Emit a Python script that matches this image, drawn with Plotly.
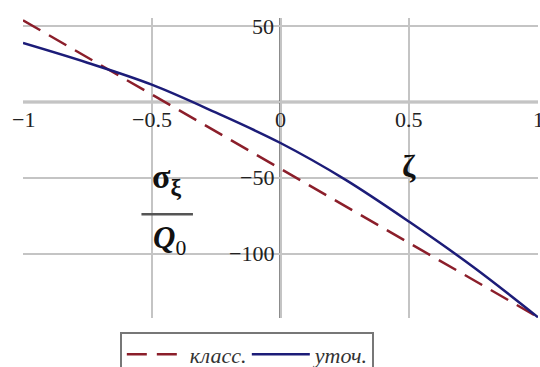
import plotly.graph_objects as go

# data
zeta = [-1.0, -0.75, -0.5, -0.25, 0.0, 0.25, 0.5, 0.75, 1.0]
sigma_refined = [39, 26, 11.5, -7, -27, -51, -79, -109, -142]
zeta_classic = [-1.0, 1.0]
sigma_classic = [54, -142]

xtick_vals = [-1, -0.5, 0, 0.5, 1]
xtick_text = ["\u22121", "\u22120.5", "0", "0.5", "1"]
ytick_vals = [50, -50, -100]
ytick_text = ["50", "\u221250", "\u2212100"]

SERIF = "Liberation Serif"

fig = go.Figure()
fig.add_trace(go.Scatter(
    x=zeta_classic, y=sigma_classic, mode="lines", name="класс.",
    line=dict(color="#8B1E2A", width=2.5, dash="20px,10px"),
))
fig.add_trace(go.Scatter(
    x=zeta, y=sigma_refined, mode="lines", name="уточ.",
    line=dict(color="#1C1C78", width=2.5, shape="spline"),
))

annotations = []
for v, t in zip(xtick_vals, xtick_text):
    annotations.append(dict(x=v, y=0, xref="x", yref="y", text=t, showarrow=False,
                            xanchor="center", yanchor="top", yshift=-3,
                            font=dict(family=SERIF, size=22, color="#222")))
for v, t in zip(ytick_vals, ytick_text):
    annotations.append(dict(x=0, y=v, xref="x", yref="y", text=t, showarrow=False,
                            xanchor="right", yanchor="middle", xshift=-5,
                            font=dict(family=SERIF, size=22, color="#222")))
# axis titles
annotations.append(dict(x=0.5, y=-42, xref="x", yref="y", text="<b>ζ</b>", showarrow=False,
                        xanchor="center", yanchor="middle",
                        font=dict(family=SERIF, size=32, color="#111")))
annotations.append(dict(x=-0.44, y=-66, xref="x", yref="y", text="<b>σ</b><sub><b>ξ</b></sub>",
                        showarrow=False, xanchor="center", yanchor="bottom",
                        font=dict(family=SERIF, size=34, color="#111")))
annotations.append(dict(x=-0.43, y=-91, xref="x", yref="y", text="<b><i>Q</i></b><sub>0</sub>",
                        showarrow=False, xanchor="center", yanchor="middle",
                        font=dict(family=SERIF, size=31, color="#111")))

fig.add_shape(type="line", xref="x", yref="y", x0=-0.54, x1=-0.34, y0=-74, y1=-74,
              line=dict(color="#555", width=2.5))

fig.update_layout(
    width=540, height=367,
    margin=dict(l=23, r=2, t=18, b=49, autoexpand=False),
    paper_bgcolor="white", plot_bgcolor="white",
    showlegend=True,
    legend=dict(orientation="h", x=0.188, y=-0.045, xanchor="left", yanchor="top",
                bordercolor="#777", borderwidth=2,
                font=dict(family=SERIF, size=22, color="#333", style="italic"),
                itemwidth=58, entrywidth=52, tracegroupgap=0),
    annotations=annotations,
    font=dict(family=SERIF),
)
fig.update_xaxes(range=[-1, 1], tickvals=xtick_vals, showticklabels=False,
                 showgrid=True, gridcolor="#C4C4C4", gridwidth=1.5,
                 zeroline=False, showline=False, ticks="")
fig.update_yaxes(range=[-142.5, 55.5], tickvals=ytick_vals + [0], showticklabels=False,
                 showgrid=True, gridcolor="#C4C4C4", gridwidth=1.5,
                 zeroline=False, showline=False, ticks="")
# darker axis lines through origin
fig.add_hline(y=0, line=dict(color="#666", width=2.5), layer="below")
fig.add_vline(x=0, line=dict(color="#666", width=2.5), layer="below")

fig.write_html("out.html", config={"displayModeBar": False},
               post_script="document.body.style.margin='0';")
